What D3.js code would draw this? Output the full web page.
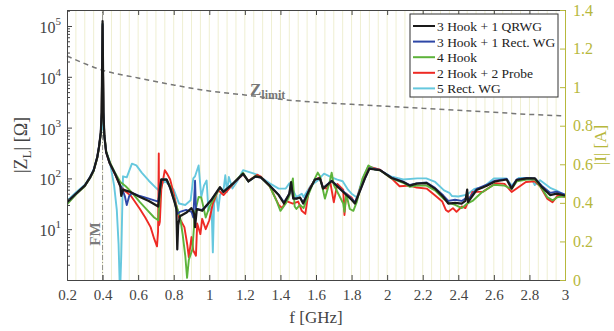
<!DOCTYPE html>
<html>
<head>
<meta charset="utf-8">
<script src="https://cdn.jsdelivr.net/npm/d3@7"></script>
<style>
  body { margin: 0; background: #fff; }
  svg, svg text { font-family: "Liberation Serif", "Times New Roman", "DejaVu Serif", serif !important; }
</style>
</head>
<body>
<div id="chart"></div>
<script>
// frequency ticks [GHz]
const freqTicks = [0.2, 0.4, 0.6, 0.8, 1, 1.2, 1.4, 1.6, 1.8, 2, 2.2, 2.4, 2.6, 2.8, 3];
const currentTicks = [0, 0.2, 0.4, 0.6, 0.8, 1, 1.2, 1.4];
const zTicks = [10, 100, 1000, 10000, 100000];

// |Z_L| [Ohm] per configuration, [f GHz, Z]
const qrwg = [[0.20,34],[0.25,50],[0.30,72],[0.33,105],[0.35,145],[0.37,260],[0.38,420],[0.39,800],[0.395,2000],[0.40,125000],[0.405,2000],[0.41,700],[0.42,330],[0.44,200],[0.47,124],[0.50,70],[0.505,45],[0.515,60],[0.55,55],[0.61,43],[0.66,36],[0.713,28],[0.722,60],[0.73,95],[0.76,95],[0.78,65],[0.807,32],[0.815,25],[0.82,4],[0.825,12],[0.835,18],[0.87,21],[0.90,26],[0.915,20],[0.92,11],[0.93,25],[0.96,23],[1.01,37],[1.06,67],[1.08,54],[1.135,80],[1.19,124],[1.22,87],[1.26,110],[1.29,105],[1.34,72],[1.39,47],[1.42,32],[1.45,50],[1.46,85],[1.472,40],[1.49,40],[1.51,42],[1.528,32],[1.557,54],[1.594,95],[1.622,100],[1.64,63],[1.688,89],[1.753,54],[1.80,38],[1.819,32],[1.838,47],[1.875,100],[1.90,155],[1.96,145],[2.025,102],[2.09,85],[2.128,72],[2.166,79],[2.222,81],[2.269,63],[2.316,43],[2.344,32],[2.382,33],[2.419,32],[2.44,36],[2.45,60],[2.455,34],[2.503,59],[2.56,72],[2.606,87],[2.672,95],[2.70,63],[2.728,93],[2.785,100],[2.831,100],[2.869,68],[2.916,47],[2.953,50],[3.0,46]];
const rectWg = [[0.20,34],[0.25,50],[0.30,72],[0.33,105],[0.35,145],[0.37,260],[0.38,420],[0.39,800],[0.395,2000],[0.40,110000],[0.405,2000],[0.41,700],[0.42,330],[0.44,200],[0.47,124],[0.50,72],[0.51,62],[0.525,45],[0.536,30],[0.55,45],[0.565,52],[0.61,45],[0.66,40],[0.713,35],[0.722,60],[0.73,95],[0.76,95],[0.78,65],[0.807,33],[0.82,20],[0.835,22],[0.87,24],[0.90,22],[0.91,17],[0.92,90],[0.925,25],[0.93,25],[0.96,24],[1.01,37],[1.06,66],[1.08,55],[1.135,80],[1.19,122],[1.22,88],[1.26,108],[1.29,104],[1.34,72],[1.39,48],[1.42,34],[1.45,50],[1.46,80],[1.472,42],[1.49,40],[1.51,42],[1.528,34],[1.557,55],[1.594,95],[1.622,100],[1.64,65],[1.688,90],[1.753,56],[1.80,40],[1.819,34],[1.838,48],[1.875,100],[1.90,158],[1.96,146],[2.025,104],[2.09,86],[2.128,74],[2.166,80],[2.222,83],[2.269,65],[2.316,46],[2.344,36],[2.382,38],[2.419,36],[2.44,40],[2.455,38],[2.503,62],[2.56,75],[2.606,90],[2.672,98],[2.70,66],[2.728,95],[2.785,102],[2.831,100],[2.869,72],[2.916,52],[2.953,55],[3.0,48]];
const hook4 = [[0.20,31],[0.25,48],[0.30,70],[0.33,102],[0.35,140],[0.37,250],[0.38,400],[0.39,780],[0.395,1900],[0.40,110000],[0.405,1900],[0.41,720],[0.42,350],[0.44,210],[0.47,130],[0.50,85],[0.53,70],[0.56,55],[0.61,34],[0.65,24],[0.69,17],[0.713,15],[0.722,50],[0.73,95],[0.76,95],[0.78,70],[0.807,35],[0.835,18],[0.85,8],[0.865,3],[0.875,1.1],[0.885,2.5],[0.905,4],[0.92,22],[0.94,43],[0.955,42],[0.98,17],[1.0,27],[1.02,37],[1.06,65],[1.08,55],[1.135,80],[1.19,128],[1.22,87],[1.26,112],[1.29,105],[1.34,70],[1.38,35],[1.40,23],[1.43,32],[1.45,45],[1.47,100],[1.48,28],[1.49,25],[1.51,30],[1.53,26],[1.56,50],[1.594,100],[1.61,130],[1.622,110],[1.65,40],[1.675,80],[1.688,130],[1.70,75],[1.753,32],[1.76,22],[1.77,50],[1.79,25],[1.81,23],[1.83,35],[1.862,100],[1.895,180],[1.93,150],[1.96,145],[2.025,100],[2.09,82],[2.128,68],[2.166,72],[2.222,72],[2.269,58],[2.316,40],[2.35,33],[2.382,30],[2.42,26],[2.45,32],[2.48,36],[2.53,52],[2.60,75],[2.66,72],[2.70,62],[2.73,88],[2.785,95],[2.83,95],[2.87,63],[2.90,43],[2.93,37],[2.96,43],[3.0,44]];
const hookProbe = [[0.20,32],[0.25,49],[0.30,71],[0.33,104],[0.35,142],[0.37,255],[0.38,410],[0.39,790],[0.395,1950],[0.40,100000],[0.405,1950],[0.41,700],[0.42,330],[0.44,200],[0.47,120],[0.50,70],[0.53,55],[0.56,45],[0.61,25],[0.64,17],[0.67,11],[0.69,6.5],[0.706,4.6],[0.712,9],[0.716,310],[0.718,12],[0.722,14],[0.73,60],[0.75,145],[0.765,120],[0.78,95],[0.80,50],[0.83,17],[0.86,11],[0.876,5],[0.885,2.8],[0.90,7],[0.91,3.8],[0.925,3],[0.932,13],[0.95,8],[0.96,16],[0.98,10],[1.0,15],[1.02,32],[1.05,59],[1.08,47],[1.135,78],[1.19,120],[1.22,90],[1.27,118],[1.29,108],[1.34,70],[1.39,30],[1.41,26],[1.43,36],[1.47,32],[1.50,35],[1.52,23],[1.54,20],[1.56,60],[1.594,95],[1.622,105],[1.64,65],[1.66,63],[1.68,85],[1.70,34],[1.72,78],[1.753,60],[1.76,19],[1.77,50],[1.80,42],[1.82,32],[1.862,90],[1.895,170],[1.96,148],[2.025,100],[2.07,70],[2.128,72],[2.166,66],[2.222,63],[2.27,46],[2.31,35],[2.33,24],[2.344,22],[2.37,26],[2.39,22],[2.42,28],[2.44,26],[2.48,54],[2.54,55],[2.61,80],[2.66,78],[2.70,54],[2.78,85],[2.83,88],[2.86,70],[2.90,40],[2.93,34],[2.96,47],[3.0,43]];
const rectWg5 = [[0.20,36],[0.25,53],[0.30,75],[0.33,108],[0.35,150],[0.37,265],[0.38,420],[0.39,750],[0.40,1400],[0.41,650],[0.42,330],[0.44,220],[0.465,72],[0.48,24],[0.49,5],[0.498,0.5],[0.505,3],[0.51,20],[0.515,110],[0.536,105],[0.565,195],[0.59,180],[0.62,130],[0.66,90],[0.71,60],[0.72,70],[0.75,90],[0.80,60],[0.83,32],[0.865,30],[0.895,37],[0.91,100],[0.92,110],[0.94,180],[0.955,43],[0.97,72],[0.985,91],[0.995,23],[1.013,27],[1.02,3.5],[1.027,32],[1.04,47],[1.05,23],[1.06,47],[1.08,59],[1.09,115],[1.10,54],[1.11,107],[1.13,63],[1.16,91],[1.19,145],[1.27,118],[1.34,80],[1.39,63],[1.43,63],[1.45,80],[1.49,43],[1.52,50],[1.53,43],[1.57,72],[1.61,91],[1.645,124],[1.688,105],[1.72,95],[1.75,88],[1.78,60],[1.80,50],[1.83,42],[1.862,100],[1.895,175],[1.96,145],[2.02,110],[2.09,95],[2.17,100],[2.22,100],[2.27,85],[2.32,58],[2.35,52],[2.365,45],[2.40,44],[2.45,48],[2.49,62],[2.54,67],[2.60,100],[2.67,100],[2.70,72],[2.74,102],[2.81,102],[2.83,74],[2.86,92],[2.92,64],[2.95,58],[3.0,47]];

// Z_limit (dashed)
const zLimit = [[0.2,25700],[0.4,13500],[0.6,9500],[0.8,6900],[1.0,5250],[1.2,4400],[1.4,3600],[1.6,3160],[1.8,2880],[2.0,2630],[2.2,2400],[2.4,2190],[2.6,2000],[2.8,1820],[3.0,1700]];

const seriesNames = ["3 Hook + 1 QRWG", "3 Hook + 1 Rect. WG", "4 Hook", "2 Hook + 2 Probe", "5 Rect. WG"];
const seriesData = [qrwg, rectWg, hook4, hookProbe, rectWg5];
const seriesColors = ["#1a1a1a", "#2e47a6", "#5db33a", "#ee2a24", "#66c8de"];

const W = 614, H = 331;
const margin = {left: 67, right: 49, top: 10, bottom: 51};
const iw = W - margin.left - margin.right;
const ih = H - margin.top - margin.bottom;
const axisCol = "#444";
const olive = "#b7b83c";
const serif = "'Liberation Serif', 'Times New Roman', 'DejaVu Serif', serif";

const svg = d3.select("#chart").append("svg")
  .attr("width", W).attr("height", H)
  .attr("font-family", serif);

const x = d3.scaleLinear().domain([0.2, 3]).range([margin.left, margin.left + iw]);
const y = d3.scaleLog().domain([1, 206500]).range([margin.top + ih, margin.top]);
const yR = d3.scaleLinear().domain([0, 1.4]).range([margin.top + ih, margin.top]);

svg.append("defs").append("clipPath").attr("id", "clip")
  .append("rect").attr("x", margin.left).attr("y", margin.top)
  .attr("width", iw).attr("height", ih);

// pale vertical lines every 0.05 GHz
svg.append("g").selectAll("line")
  .data(x.ticks(56).filter(d => d > 0.2 && d < 3))
  .enter().append("line")
  .attr("x1", d => x(d)).attr("x2", d => x(d))
  .attr("y1", yR(0)).attr("y2", yR(1.4))
  .attr("stroke", "#efefd2").attr("stroke-width", 1);

// FM marker
svg.append("line")
  .attr("x1", x(0.4)).attr("x2", x(0.4))
  .attr("y1", y.range()[0]).attr("y2", y.range()[1])
  .attr("stroke", "#777").attr("stroke-width", 0.8)
  .attr("stroke-dasharray", "5,2,1,2");

svg.append("text")
  .attr("transform", `translate(${x(0.4) - 3},${y(8)}) rotate(-90)`)
  .attr("text-anchor", "middle")
  .attr("font-size", 15).attr("font-weight", "bold").attr("fill", "#7a7a7a")
  .text("FM");

// Z_limit
const line = d3.line().x(d => x(d[0])).y(d => y(d[1]));
svg.append("path").datum(zLimit)
  .attr("d", line.curve(d3.curveMonotoneX))
  .attr("fill", "none").attr("stroke", "#777")
  .attr("stroke-width", 1.5).attr("stroke-dasharray", "5,4");

const zl = svg.append("text")
  .attr("x", 250).attr("y", 95)
  .attr("font-size", 17).attr("font-weight", "bold").attr("fill", "#777");
zl.append("tspan").text("Z");
zl.append("tspan").attr("font-size", 12).attr("dy", 4).text("limit");

// data lines, last legend entry drawn first
const dataLine = d3.line().x(d => x(d[0])).y(d => y(Math.max(d[1], 0.3)));
const gLines = svg.append("g").attr("clip-path", "url(#clip)");
for (let i = seriesData.length - 1; i >= 0; i--) {
  gLines.append("path").datum(seriesData[i])
    .attr("d", dataLine)
    .attr("fill", "none")
    .attr("stroke", seriesColors[i])
    .attr("stroke-width", i === 0 ? 2.2 : 1.9)
    .attr("stroke-linejoin", "round");
}

// axes
const xAxis = d3.axisBottom(x).tickValues(freqTicks).tickSize(-5).tickPadding(9)
  .tickFormat(d3.format("~g"));
const gx = svg.append("g").attr("transform", `translate(0,${margin.top + ih})`).call(xAxis)
  .attr("font-family", serif);
gx.select(".domain").attr("stroke", axisCol);
gx.selectAll(".tick line").attr("stroke", axisCol);
gx.selectAll("text").attr("font-size", 15).attr("fill", "#444");

const xTop = d3.axisTop(x).tickValues(freqTicks).tickSize(-5).tickFormat("");
const gxt = svg.append("g").attr("transform", `translate(0,${margin.top})`).call(xTop);
gxt.select(".domain").attr("stroke", axisCol);
gxt.selectAll(".tick line").attr("stroke", axisCol);

// left log axis
const minorTicks = [];
[1, 10, 100, 1000, 10000, 100000].forEach(dec => {
  for (let k = 2; k <= 9; k++) if (dec * k <= 206500) minorTicks.push(dec * k);
});
const yMinor = d3.axisLeft(y).tickValues(minorTicks).tickSize(-3).tickFormat("");
const gym = svg.append("g").attr("transform", `translate(${margin.left},0)`).call(yMinor);
gym.select(".domain").remove();
gym.selectAll(".tick line").attr("stroke", axisCol);

const yAxis = d3.axisLeft(y).tickValues(zTicks).tickSize(-5).tickFormat("");
const gy = svg.append("g").attr("transform", `translate(${margin.left},0)`).call(yAxis);
gy.select(".domain").attr("stroke", axisCol);
gy.selectAll(".tick line").attr("stroke", axisCol);

const yLab = svg.append("g").selectAll("text").data(zTicks).enter().append("text")
  .attr("x", margin.left - 6).attr("y", d => y(d) + 7)
  .attr("text-anchor", "end").attr("font-size", 16).attr("fill", "#444");
yLab.append("tspan").text("10");
yLab.append("tspan").attr("dy", -8).attr("font-size", 11).text(d => Math.round(Math.log10(d)));

// right current axis
const yRAxis = d3.axisRight(yR).tickValues(currentTicks).tickSize(-5).tickPadding(8)
  .tickFormat(d3.format("~g"));
const gyr = svg.append("g").attr("transform", `translate(${margin.left + iw},0)`).call(yRAxis)
  .attr("font-family", serif);
gyr.select(".domain").attr("stroke", olive);
gyr.selectAll(".tick line").attr("stroke", olive);
gyr.selectAll("text").attr("font-size", 16).attr("fill", olive);

// axis titles
svg.append("text")
  .attr("x", x(1.6)).attr("y", 323)
  .attr("text-anchor", "middle").attr("font-size", 17).attr("fill", "#444")
  .text("f [GHz]");

const yt = svg.append("text")
  .attr("transform", `translate(27,${(margin.top + margin.top + ih) / 2}) rotate(-90)`)
  .attr("text-anchor", "middle").attr("font-size", 18).attr("fill", "#444");
yt.append("tspan").text("|Z");
yt.append("tspan").attr("font-size", 13).attr("dy", 4).text("L");
yt.append("tspan").attr("dy", -4).text("| [Ω]");

svg.append("text")
  .attr("transform", `translate(606,${(margin.top + margin.top + ih) / 2}) rotate(-90)`)
  .attr("text-anchor", "middle").attr("font-size", 17).attr("fill", olive)
  .text("|I| [A]");

// legend
const lg = svg.append("g").attr("transform", "translate(410,14)");
lg.append("rect").attr("width", 148).attr("height", 83)
  .attr("fill", "#fff").attr("stroke", "#333").attr("stroke-width", 1);
seriesNames.forEach((name, i) => {
  const yy = 12 + i * 15.6;
  lg.append("line").attr("x1", 3).attr("x2", 25).attr("y1", yy).attr("y2", yy)
    .attr("stroke", seriesColors[i]).attr("stroke-width", 2);
  lg.append("text").attr("x", 27).attr("y", yy + 5)
    .attr("font-size", 13.5).attr("fill", "#222").text(name);
});
</script>
</body>
</html>
